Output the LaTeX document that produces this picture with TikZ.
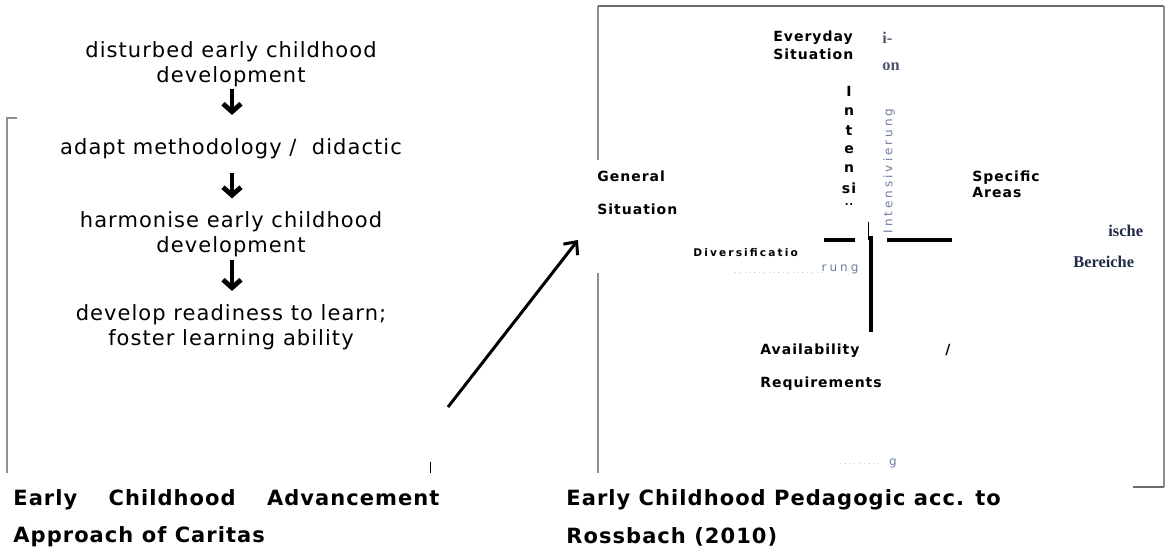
\documentclass[tikz,border=0pt]{standalone}
\usepackage{fontspec}
\setmainfont{DejaVu Sans}
\newfontfamily\verd[LetterSpace=5]{DejaVu Sans}
\newfontfamily\verdlab[LetterSpace=7]{DejaVu Sans}
\newfontfamily\verdwide[LetterSpace=20]{DejaVu Sans}
\newfontfamily\ghostfont[LetterSpace=25]{DejaVu Sans}
\newfontfamily\cambr{Liberation Serif}
\usetikzlibrary{arrows.meta,calc}

\definecolor{framegray}{HTML}{8E8E8E}
\definecolor{topgray}{HTML}{6C6C6C}
\definecolor{navy}{HTML}{1F2A48}
\definecolor{bluegray}{HTML}{6E7F9E}

\tikzset{
  flowtext/.style={align=center, inner sep=0pt, font=\verd\fontsize{10.5}{12.5}\selectfont},
  flowarrow/.style={line width=2.4pt, -{Straight Barb[length=4pt,width=9pt]}},
  captext/.style={anchor=west, inner sep=0pt, font=\verd\bfseries\fontsize{10.5}{12.5}\selectfont},
  quadlabel/.style={anchor=west, align=left, inner sep=0pt, font=\verdlab\bfseries\fontsize{7}{9}\selectfont},
  stackletter/.style={inner sep=0pt, font=\verdlab\bfseries\fontsize{7}{9}\selectfont},
  ghosttext/.style={inner sep=0pt, text=bluegray, font=\ghostfont\fontsize{6}{7}\selectfont},
  serifbit/.style={anchor=west, inner sep=0pt, text=navy, font=\cambr\bfseries\fontsize{8.2}{10}\selectfont},
  frameline/.style={draw=framegray, line width=1pt},
  crossbar/.style={line width=1.6pt},
  bigarrow/.style={line width=1.5pt, -{Straight Barb[length=5pt,width=9pt]}},
}

\begin{document}
\begin{tikzpicture}[x=0.5pt,y=-0.5pt]
\useasboundingbox (0,0) rectangle (1166,552);

%left panel steps
\node[flowtext] (dist) at (231,64) {disturbed early childhood\\development};
\node[flowtext] (adapt) at (231,148.5) {adapt methodology /\ \ didactic};
\node[flowtext] (harm) at (231,234.5) {harmonise early childhood\\development};
\node[flowtext] (ready) at (231,327) {develop readiness to learn;\\foster learning ability};

%arrows between the steps
\draw[flowarrow] ($(dist.south)+(1,2)$) -- ($(adapt.north)+(1,-23)$);
\draw[flowarrow] ($(adapt.south)+(1,14)$) -- ($(harm.north)+(1,-13)$);
\draw[flowarrow] ($(harm.south)+(1,2)$) -- ($(ready.north)+(1,-13)$);

%left frame
\draw[frameline] (17,118) -- (7,118) -- (7,473);
\draw[thin] (430,462) -- (430,473);

%captions
\node[captext, text width=213pt] (capleft) at (13,500) {Early\hfill Childhood\hfill Advancement};
\node[captext] (capleft2) at (13,537) {Approach of Caritas};
\node[captext] (capright) at (566,500) {Early Childhood Pedagogic acc. to};
\node[captext] (capright2) at (566,537) {Rossbach (2010)};

%arrow to the right panel
\coordinate (arrtail) at (448,407);
\coordinate (arrhead) at (578,240);
\draw[bigarrow] (arrtail) -- (arrhead);

%right frame
\draw[frameline] (598,160) -- (598,6);
\draw[draw=topgray, line width=1.2pt] (598,6) -- (1164,6);
\draw[frameline] (1164,6) -- (1164,487);
\draw[draw=topgray, line width=1.2pt] (1164,487) -- (1133,487);
\draw[frameline] (598,273) -- (598,473);

%cross
\draw[crossbar] (824,240) -- (855,240);
\draw[crossbar] (887,240) -- (952,240);
\draw[crossbar] (871,236) -- (871,332);
\draw[thin] (868,222) -- (868,240);

%names of the quadrants
\node[quadlabel] (every) at (773,45.5) {Everyday\\Situation};
\node[quadlabel] (gen) at (597,193) {General\\[7.5pt]Situation};
\node[quadlabel] (spec) at (972,184.5) {Specific\\[-1pt]Areas};
\node[quadlabel, text width=95pt] (avail) at (760,351) {Availability\hfill/};
\node[quadlabel] (req) at (760,384) {Requirements};
\node[anchor=west, inner sep=0pt, font=\verdwide\bfseries\fontsize{5.3}{6}\selectfont] (div) at (693,253) {Diversificatio};

%stacked letters
\node[stackletter] (st1) at (849,91) {I};
\node[stackletter] (st2) at (849,112) {n};
\node[stackletter] (st3) at (849,131) {t};
\node[stackletter] (st4) at (849,150) {e};
\node[stackletter] (st5) at (849,169) {n};
\node[stackletter] (st6) at (849,188) {si};
\node[stackletter, font=\verdlab\bfseries\fontsize{5}{6}\selectfont] (st7) at (849,205) {..};

%pieces of the picture underneath
\node[ghosttext, rotate=90] (inten) at (889,171) {Intensivierung};
\node[ghosttext] (rung) at (840,269) {rung};
\draw[gray!40, dotted] (735,272) -- (823,272);
\node[serifbit] (ische) at (1108,231) {ische};
\node[serifbit] (bereiche) at (1073,262) {Bereiche};
\node[serifbit, opacity=0.8] (frag1) at (882,38) {i-};
\node[serifbit, opacity=0.8] (frag2) at (882,67) {on};
\node[ghosttext] (frag3) at (893,463) {g};
\draw[gray!40, dotted] (840,463) -- (880,463);

\end{tikzpicture}
\end{document}
